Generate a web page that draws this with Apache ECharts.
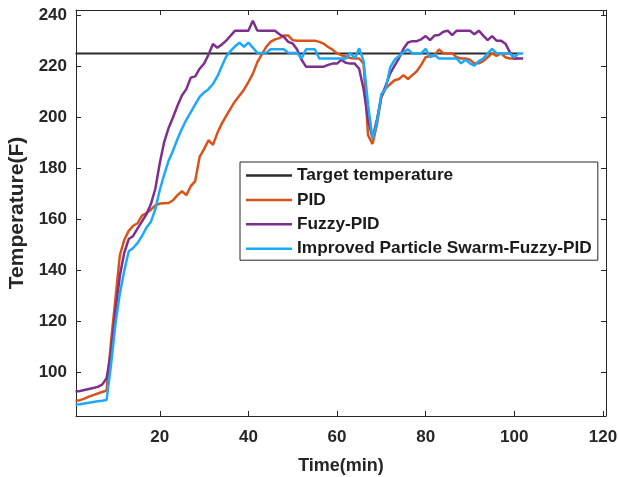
<!DOCTYPE html>
<html>
<head>
<meta charset="utf-8">
<script src="https://cdn.jsdelivr.net/npm/echarts@6/dist/echarts.min.js"></script>
<style>
html,body{margin:0;padding:0;background:#fff;}
#chart{width:619px;height:477px;}
</style>
</head>
<body>
<div id="chart"></div>
<script>
// ---- data ----
var time = [1,2,3,4,5,6,7,8,9,10,11,12,13,14,15,16,17,18,19,20,
  21,22,23,24,25,26,27,28,29,30,31,32,33,34,35,36,37,38,39,40,
  41,42,43,44,45,46,47,48,49,50,51,52,53,54,55,56,57,58,59,60,
  61,62,63,64,65,66,67,68,69,70,71,72,73,74,75,76,77,78,79,80,
  81,82,83,84,85,86,87,88,89,90,91,92,93,94,95,96,97,98,99,100,
  101,102];

var targetTime = [1, 101];
var targetValue = [225, 225];

var pidValues = [89, 89.2, 89.8, 90.6, 91.2, 91.8, 92.4, 93, 112, 129,
  146, 152, 155.5, 157.5, 158.5, 161.5, 162.5, 163.8, 165.5, 166.2,
  166.3, 166.4, 167.5, 169.5, 171, 169.5, 173, 175, 184.5, 187.5,
  191, 189.2, 193.8, 197.5, 200.5, 203.5, 206.3, 208.5, 210.8, 213.8,
  217, 221.5, 224.5, 227.5, 229.5, 230.5, 231, 232, 232, 230.2,
  230, 230, 230, 230, 230, 229.5, 228.8, 227.5, 226.5, 225,
  224.3, 223.8, 223.2, 223, 223, 221, 193, 189.5, 197, 208,
  211.3, 213, 214.5, 215, 216.5, 215, 216.5, 218, 220.5, 223.5,
  224, 224, 226.6, 225, 225, 225, 223.5, 223, 223, 222.5,
  221.1, 221.1, 222, 223.5, 225, 224, 225, 223.5, 223, 223,
  223];

var fuzzyValues = [92.6, 92.8, 93.2, 93.6, 94.0, 94.4, 95.3, 97.8, 108, 124,
  138, 147, 152.3, 153.5, 156.5, 159.2, 162, 166, 172, 182,
  190.3, 195.8, 200, 204.5, 208.5, 211, 215.5, 216, 219, 221,
  224.5, 228.7, 227.2, 228.5, 230, 232, 233.9, 233.9, 233.9, 233.9,
  237.8, 234, 233.9, 233.9, 233.9, 233.9, 232.5, 231.5, 229.5, 228.9,
  226.5, 222.5, 219.8, 219.8, 219.8, 219.8, 219.8, 220.5, 221, 221,
  222.5, 221.3, 221, 221, 219, 211, 199, 192, 199, 208,
  212.5, 217.2, 220.2, 223.2, 226.8, 229.3, 229.8, 229.8, 230.5, 231.8,
  230.2, 232, 232.2, 233.5, 233.9, 232.2, 233.9, 233.9, 233.9, 233.9,
  232.5, 233.9, 232, 230.2, 231.8, 230, 230, 228.8, 225.5, 223,
  223, 223];

var improvedValues = [87.5, 87.6, 87.9, 88.2, 88.5, 88.8, 89, 89.3, 103, 119,
  131, 140, 147.5, 148.8, 150.8, 153.5, 156.8, 159, 164, 171.5,
  177.5, 183, 187, 191.5, 195.5, 199, 202, 205, 208, 209.7,
  211, 213, 216, 220, 223.8, 226, 227.8, 229.2, 227.6, 229.2,
  227.3, 225.2, 225.2, 225.2, 226.6, 226.6, 226.6, 226.6, 225.2, 225.2,
  225.2, 223, 226.6, 226.6, 226.6, 223, 223, 223, 223, 223,
  223, 223, 225.2, 223, 227, 222, 205, 191.5, 198, 209,
  211.3, 219.5, 222.5, 224, 225.5, 226.6, 225, 225, 225, 226.8,
  223.5, 224.5, 223, 223, 223, 223, 223, 221.1, 222.5, 221.1,
  220.2, 222, 223, 225, 226.8, 225, 225, 225, 225, 223.5,
  225, 225];

var xTicks = [20, 40, 60, 80, 100, 120];
var yTicks = [100, 120, 140, 160, 180, 200, 220, 240];

var seriesNames = ['Target temperature', 'PID', 'Fuzzy-PID', 'Improved Particle Swarm-Fuzzy-PID'];
var seriesColors = ['#2b2b2b', '#D95319', '#7E2F8E', '#1CA9F9'];
var seriesWidths = [2, 2.5, 2.5, 2.5];

function pairs(xs, ys) {
  var out = [];
  for (var i = 0; i < ys.length; i++) out.push([xs[i], ys[i]]);
  return out;
}

var FONT = '"Liberation Sans", Arial, Helvetica, sans-serif';
var AX = '#262626';

function mkX(pos, showLabel) {
  return {
    type: 'value', position: pos, min: 1.1, max: 120.7,
    axisLine: { show: true, onZero: false, lineStyle: { color: AX, width: 1 } },
    axisTick: { show: true, inside: true, length: 5, customValues: xTicks, lineStyle: { color: AX } },
    axisLabel: { show: showLabel, customValues: xTicks, fontSize: 17, fontWeight: 'bold', color: AX, fontFamily: FONT, margin: 13 },
    splitLine: { show: false }
  };
}
function mkY(pos, showLabel) {
  return {
    type: 'value', position: pos, min: 83, max: 242,
    axisLine: { show: true, onZero: false, lineStyle: { color: AX, width: 1 } },
    axisTick: { show: true, inside: true, length: 5, customValues: yTicks, lineStyle: { color: AX } },
    axisLabel: { show: showLabel, customValues: yTicks, fontSize: 17, fontWeight: 'bold', color: AX, fontFamily: FONT, margin: 9 },
    splitLine: { show: false }
  };
}

var xMain = mkX('bottom', true);
xMain.name = 'Time(min)';
xMain.nameLocation = 'middle';
xMain.nameGap = 41;
xMain.nameTextStyle = { fontSize: 18, fontWeight: 'bold', color: AX, fontFamily: FONT };

var yMain = mkY('left', true);
yMain.name = 'Temperature(F)';
yMain.nameLocation = 'middle';
yMain.nameGap = 46;
yMain.nameTextStyle = { fontSize: 21, fontWeight: 'bold', color: AX, fontFamily: FONT };

var lineData = [
  pairs(targetTime, targetValue),
  pairs(time, pidValues),
  pairs(time, fuzzyValues),
  pairs(time, improvedValues)
];

var series = seriesNames.map(function (n, i) {
  return {
    name: n, type: 'line', xAxisIndex: 0, yAxisIndex: 0,
    data: lineData[i], symbol: 'none', showSymbol: false,
    lineStyle: { color: seriesColors[i], width: seriesWidths[i] },
    itemStyle: { color: seriesColors[i] },
    emphasis: { disabled: true }
  };
});

var chart = echarts.init(document.getElementById('chart'), null, { renderer: 'canvas' });
chart.setOption({
  animation: false,
  backgroundColor: '#fff',
  grid: { left: 76, right: 13, top: 10, bottom: 61, containLabel: false, outerBoundsMode: 'none' },
  xAxis: [xMain, mkX('top', false)],
  yAxis: [yMain, mkY('right', false)],
  legend: {
    orient: 'vertical', left: 240, top: 162,
    data: seriesNames.map(function (n) { return { name: n, icon: 'rect' }; }),
    itemWidth: 46, itemHeight: 2.5, itemGap: 7.4,
    padding: [5, 6, 3, 6],
    borderColor: AX, borderWidth: 1, borderRadius: 0, backgroundColor: '#fff',
    textStyle: { fontSize: 17.3, fontWeight: 'bold', color: '#1a1a1a', fontFamily: FONT, lineHeight: 17 },
    selectedMode: false
  },
  series: series
});
</script>
</body>
</html>
